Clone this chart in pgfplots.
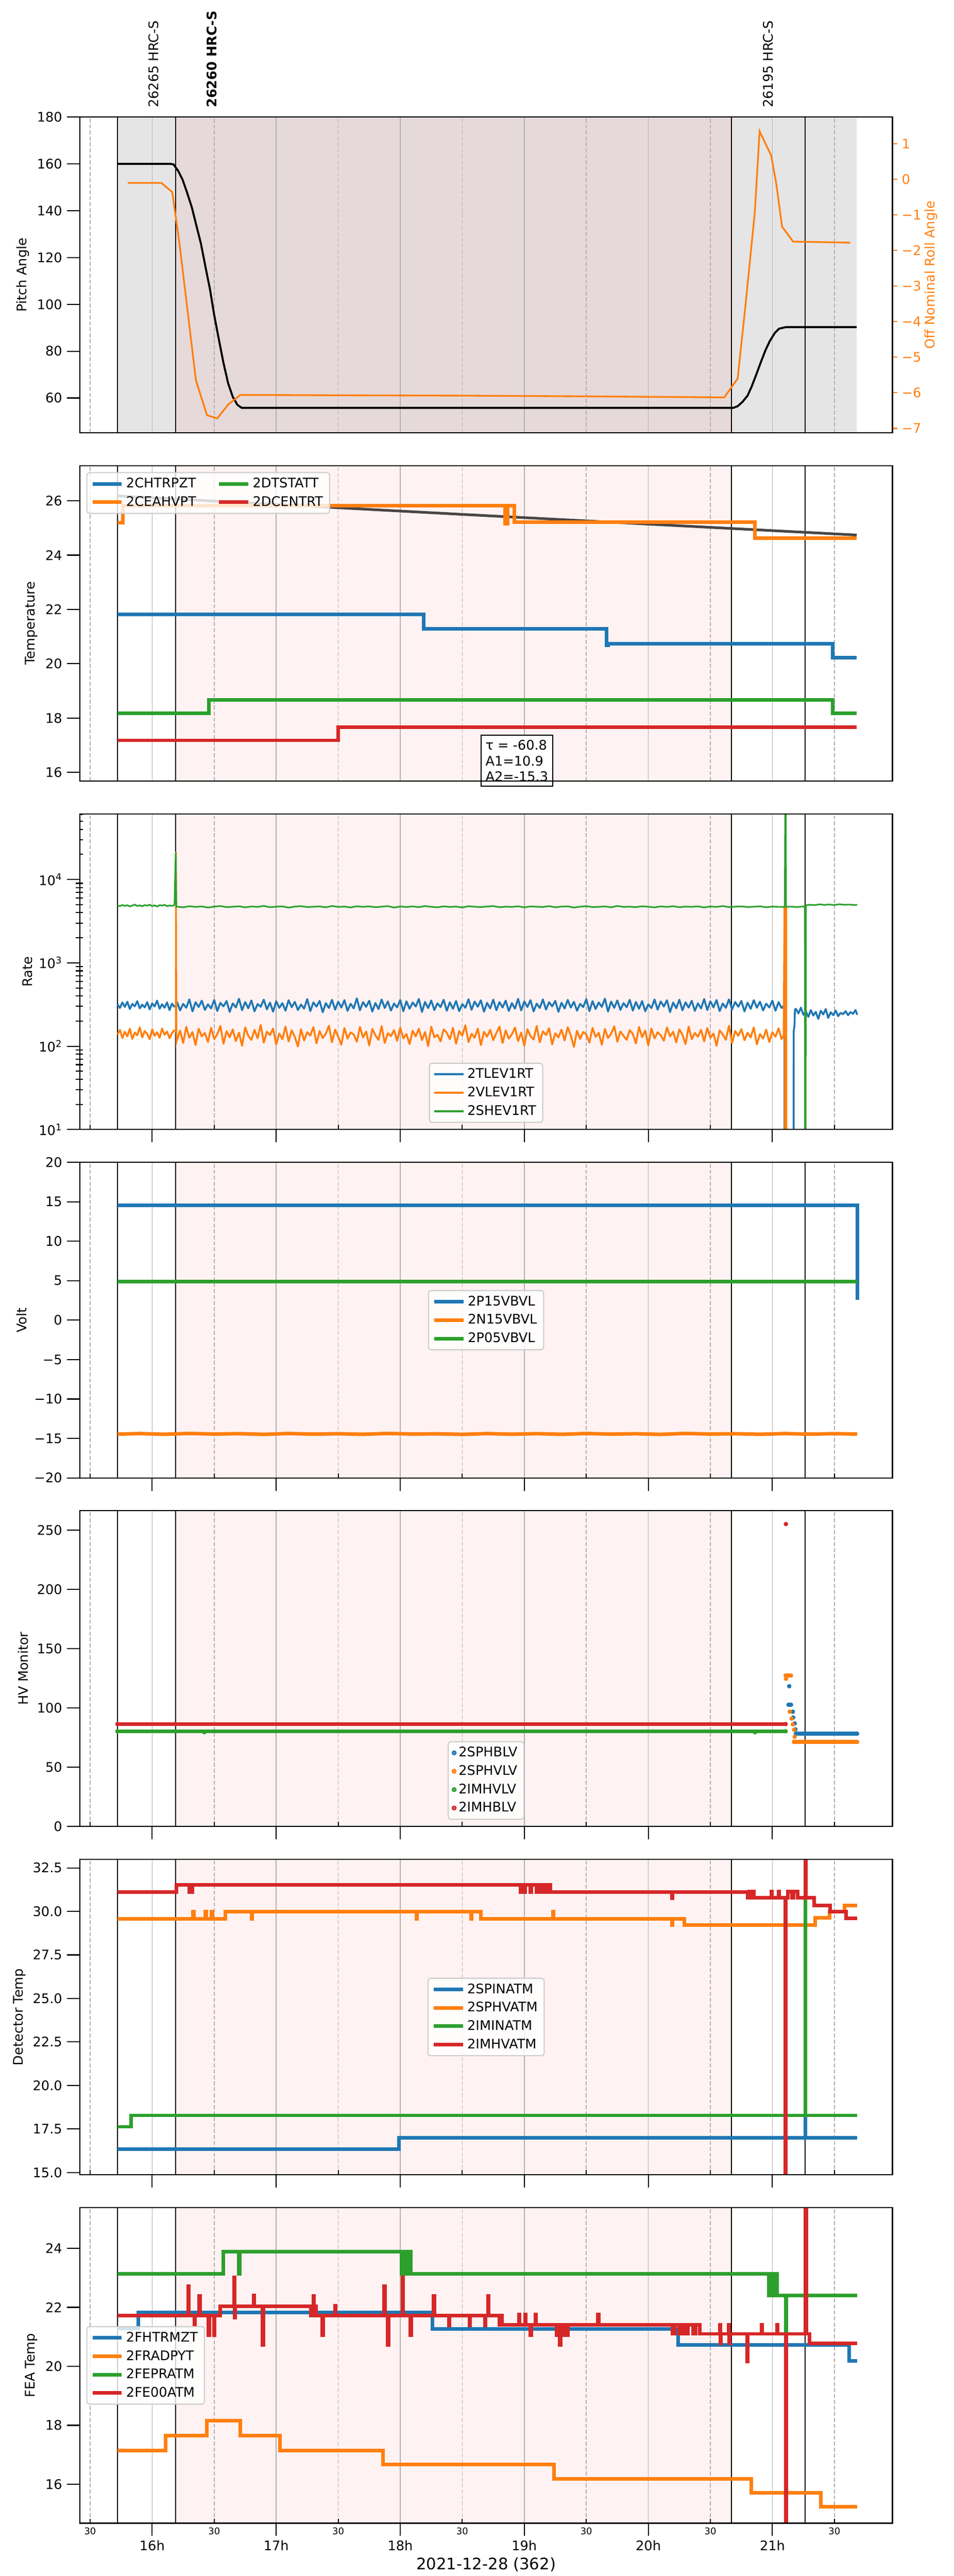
\documentclass[border=0pt]{standalone}
\usepackage{fontspec}
\setmainfont{DejaVu Sans}
\usepackage{pgfplots}
\usepackage{pgfplotstable}
\pgfplotsset{compat=1.18}

\definecolor{C0}{HTML}{1F77B4}
\definecolor{C1}{HTML}{FF7F0E}
\definecolor{C2}{HTML}{2CA02C}
\definecolor{C3}{HTML}{D62728}
\definecolor{pinkbg}{HTML}{FFF2F2}
\definecolor{graybg}{HTML}{E5E5E5}
\definecolor{topbg}{HTML}{E6D9D9}
\definecolor{gridgray}{HTML}{B0B0B0}
\definecolor{legedge}{HTML}{CCCCCC}
\definecolor{fitgray}{HTML}{4A4545}

\newcommand{\ften}{\fontsize{10}{12}\selectfont}
\newcommand{\fseven}{\fontsize{7}{8.4}\selectfont}
\newcommand{\ftwelve}{\fontsize{12}{14.4}\selectfont}

\tikzset{
  halfline/.style={gridgray, line width=0.6bp, dash pattern=on 3bp off 1.5bp},
  hourline/.style={gridgray, line width=0.6bp},
  evline/.style={black, line width=0.7bp},
}

\newcommand{\pvl}[3]{\draw[#3] ({axis cs:#1,#2}|-{rel axis cs:0,0}) -- ({axis cs:#1,#2}|-{rel axis cs:0,1});}
\newcommand{\pband}[4]{\fill[#4] ({axis cs:#1,#3}|-{rel axis cs:0,0}) rectangle ({axis cs:#2,#3}|-{rel axis cs:0,1});}
\newcommand{\pgrid}[1]{%
  \pvl{15.5}{#1}{halfline}\pvl{16.5}{#1}{halfline}\pvl{17.5}{#1}{halfline}\pvl{18.5}{#1}{halfline}%
  \pvl{19.5}{#1}{halfline}\pvl{20.5}{#1}{halfline}\pvl{21.5}{#1}{halfline}%
  \pvl{16}{#1}{hourline}\pvl{17}{#1}{hourline}\pvl{18}{#1}{hourline}\pvl{19}{#1}{hourline}\pvl{20}{#1}{hourline}\pvl{21}{#1}{hourline}%
  \pvl{15.72}{#1}{evline}\pvl{16.19}{#1}{evline}\pvl{20.67}{#1}{evline}\pvl{21.265}{#1}{evline}}
\newcommand{\pstd}[1]{\pband{16.19}{20.67}{#1}{pinkbg}\pgrid{#1}}

\pgfplotsset{
  legend image code/.code={\draw[#1] (0bp,0bp) -- (22bp,0bp);},
  panel/.style={
    scale only axis, width=613.44bp, height=238.14bp,
    xmin=15.416, xmax=21.968,
    anchor=north west,
    axis on top,
    clip mode=individual,
    axis line style={line width=0.8bp},
    tick align=outside,
    major tick length=9.7bp,
    every tick/.style={line width=0.8bp, black},
    tick pos=left,
    tick label style={font=\ften},
    /pgf/number format/assume math mode=true,
    legend cell align=left,
    legend style={draw=legedge, line width=0.8bp, rounded corners=2bp, fill=white, fill opacity=0.8, text opacity=1, font=\ften, row sep=1bp},
  },
  ylab/.style={every axis y label/.style={at={([xshift=#1]axis description cs:0,0.5)}, rotate=90, anchor=center, font=\ften}},
  noxt/.style={xtick=\empty},
  hxt/.style={xtick={16,17,18,19,20,21}, xticklabels={},
    extra x ticks={15.5,16.5,17.5,18.5,19.5,20.5,21.5}, extra x tick labels={},
    extra x tick style={tick align=inside, major tick length=3.5bp}},
}

\pgfplotstableread{
x tlev vlev shev
15.72 318 138 4880
15.74 287 157 4790
15.76 334 125 4950
15.78 296 149 4820
15.80 341 131 4910
15.82 279 162 4760
15.84 322 122 4870
15.86 301 146 4990
15.88 347 135 4810
15.90 284 168 4900
15.92 315 127 4770
15.94 292 152 4930
15.96 338 140 4850
15.98 276 121 4980
16.00 327 159 4800
16.02 299 133 4890
16.04 352 147 4740
16.06 281 126 4920
16.08 318 163 4860
16.10 289 137 4960
16.12 336 150 4790
16.14 270 124 4870
16.16 324 144 4830
16.18 295 156 4900
}\rateA

\pgfplotstableread{
x tlev vlev
16.2 341 118
16.225 268 154
16.25 322 109
16.275 289 171
16.3 365 126
16.325 261 148
16.35 337 103
16.375 295 162
16.4 352 131
16.425 272 144
16.45 318 112
16.475 283 166
16.5 359 122
16.525 264 139
16.55 331 175
16.575 300 107
16.6 348 151
16.625 258 128
16.65 326 159
16.675 291 115
16.7 371 145
16.725 270 101
16.75 339 168
16.775 285 133
16.8 354 119
16.825 262 157
16.85 320 124
16.875 297 180
16.9 362 110
16.925 276 149
16.95 333 136
16.975 259 163
17 347 105
17.025 288 142
17.05 328 121
17.075 266 172
17.1 356 114
17.125 293 155
17.15 340 129
17.175 271 99
17.2 316 160
17.225 282 117
17.25 368 147
17.275 263 134
17.3 335 169
17.325 298 108
17.35 350 152
17.375 255 125
17.4 329 141
17.425 287 176
17.45 360 111
17.475 274 158
17.5 342 130
17.525 290 104
17.55 357 165
17.575 265 123
17.6 323 146
17.625 284 138
17.65 375 113
17.675 269 170
17.7 338 127
17.725 296 150
17.75 351 102
17.775 260 161
17.8 330 135
17.825 279 119
17.85 363 174
17.875 287 109
17.9 344 143
17.925 267 132
17.95 325 156
17.975 292 116
18 358 167
18.025 262 124
18.05 346 140
18.075 281 106
18.1 334 153
18.125 299 131
18.15 369 162
18.175 257 118
18.2 340 148
18.225 286 100
18.25 353 171
18.275 271 128
18.3 327 137
18.325 294 114
18.35 361 159
18.375 266 145
18.4 336 121
18.425 280 166
18.45 349 107
18.475 263 152
18.5 320 134
18.525 289 178
18.55 366 112
18.575 273 141
18.6 343 126
18.625 297 163
18.65 355 103
18.675 259 149
18.7 331 130
18.725 284 157
18.75 362 118
18.775 270 144
18.8 338 172
18.825 291 109
18.85 352 155
18.875 264 123
18.9 328 139
18.925 282 167
18.95 370 115
18.975 268 146
19 345 101
19.025 295 160
19.05 357 132
19.075 261 120
19.1 324 175
19.125 287 111
19.15 364 151
19.175 275 136
19.2 337 164
19.225 300 105
19.25 350 143
19.275 258 127
19.3 332 158
19.325 283 117
19.35 359 169
19.375 290 134
19.4 341 98
19.425 266 153
19.45 322 122
19.475 294 148
19.5 367 138
19.525 263 110
19.55 347 166
19.575 279 129
19.6 335 145
19.625 296 104
19.65 372 161
19.675 260 125
19.7 343 141
19.725 288 173
19.75 354 113
19.775 272 150
19.8 329 133
19.825 293 119
19.85 360 156
19.875 267 140
19.9 339 108
19.925 281 170
19.95 348 128
19.975 262 154
20 318 102
20.025 286 163
20.05 363 124
20.075 274 147
20.1 344 135
20.125 299 116
20.15 356 168
20.175 256 131
20.2 334 149
20.225 285 111
20.25 361 159
20.275 269 137
20.3 336 106
20.325 290 172
20.35 351 121
20.375 265 144
20.4 327 130
20.425 283 157
20.45 368 114
20.475 271 165
20.5 346 126
20.525 292 142
20.55 358 101
20.575 263 155
20.6 325 138
20.625 288 119
20.65 365 176
20.675 276 109
20.7 339 152
20.725 297 133
20.75 349 160
20.775 261 118
20.8 333 145
20.825 280 127
20.85 357 168
20.875 289 105
20.9 342 140
20.925 268 123
20.95 324 158
20.975 291 112
21 352 147
21.025 266 130
21.05 338 164
21.075 284 120
}\rateB

\pgfplotstableread{
x shev
16.2 4720
16.25 4640
16.3 4780
16.35 4690
16.4 4750
16.45 4610
16.5 4730
16.55 4800
16.6 4660
16.65 4710
16.7 4770
16.75 4630
16.8 4740
16.85 4690
16.9 4820
16.95 4650
17 4720
17.05 4760
17.1 4600
17.15 4730
17.2 4790
17.25 4670
17.3 4710
17.35 4750
17.4 4640
17.45 4810
17.5 4690
17.55 4730
17.6 4620
17.65 4770
17.7 4700
17.75 4760
17.8 4650
17.85 4720
17.9 4790
17.95 4610
18 4740
18.05 4680
18.1 4750
18.15 4660
18.2 4800
18.25 4700
18.3 4640
18.35 4760
18.4 4690
18.45 4730
18.5 4620
18.55 4780
18.6 4710
18.65 4670
18.7 4740
18.75 4800
18.8 4650
18.85 4720
18.9 4690
18.95 4770
19 4630
19.05 4750
19.1 4710
19.15 4680
19.2 4790
19.25 4640
19.3 4730
19.35 4760
19.4 4610
19.45 4720
19.5 4780
19.55 4670
19.6 4700
19.65 4750
19.7 4640
19.75 4810
19.8 4690
19.85 4720
19.9 4660
19.95 4770
20 4710
20.05 4630
20.1 4750
20.15 4690
20.2 4780
20.25 4650
20.3 4730
20.35 4700
20.4 4760
20.45 4620
20.5 4740
20.55 4690
20.6 4800
20.65 4660
20.7 4720
20.75 4750
20.8 4680
20.85 4710
20.9 4770
20.95 4640
21 4730
21.05 4700
21.1 4690
}\shevB

\begin{document}
\begin{tikzpicture}
\path[use as bounding box] (0,0) rectangle (720bp,1944bp);

% ---------------- Panel 1: pitch / roll
\begin{axis}[panel, noxt, at={(60.16bp,1855.62bp)},
  ymin=45.2, ymax=180, ytick={60,80,100,120,140,160,180},
  ylabel={Pitch Angle}, ylab=-42.8bp]
  \pband{15.72}{21.68}{100}{graybg}
  \pband{16.19}{20.67}{100}{topbg}
  \pgrid{100}
  \addplot[black, line width=1.5bp] coordinates {
    (15.72,160) (16.15,160) (16.172,159.8) (16.21,157) (16.245,153.3) (16.28,148)
    (16.319,141.6) (16.355,134) (16.393,126.0) (16.43,116) (16.466,106.5) (16.50,95.5)
    (16.540,84.4) (16.575,75) (16.613,66.2) (16.65,60.5) (16.687,57.1) (16.721,55.8)
    (20.686,55.8) (20.72,56.5) (20.76,58.4) (20.80,61) (20.833,64.9) (20.87,70)
    (20.907,75.3) (20.945,80.5) (20.98,84.4) (21.02,87.8) (21.054,89.6) (21.11,90.3) (21.68,90.3)};
  \node[rotate=90, anchor=west, inner sep=0pt, font=\ften] at ({axis cs:16.012,100}|-{rel axis cs:0,1.0295}) {26265 HRC-S};
  \node[rotate=90, anchor=west, inner sep=0pt, font=\ften\bfseries] at ({axis cs:16.481,100}|-{rel axis cs:0,1.0295}) {26260 HRC-S};
  \node[rotate=90, anchor=west, inner sep=0pt, font=\ften] at ({axis cs:20.966,100}|-{rel axis cs:0,1.0295}) {26195 HRC-S};
\end{axis}
\begin{axis}[panel, noxt, at={(60.16bp,1855.62bp)},
  ymin=-7.12, ymax=1.75, ytick={-7,-6,-5,-4,-3,-2,-1,0,1},
  yticklabels={−7,−6,−5,−4,−3,−2,−1,0,1},
  ytick pos=right, yticklabel pos=right,
  major tick length=3.5bp,
  every tick/.style={line width=0.8bp, C1},
  y tick label style={text=C1},
  ylabel={Off Nominal Roll Angle},
  every axis y label/.style={at={([xshift=29bp]axis description cs:1,0.5)}, rotate=90, anchor=center, font=\ften, text=C1}]
  \addplot[C1, line width=1.3bp] coordinates {
    (15.804,-0.10) (16.074,-0.10) (16.162,-0.36) (16.22,-1.80) (16.294,-3.94) (16.353,-5.65)
    (16.442,-6.63) (16.525,-6.72) (16.613,-6.33) (16.711,-6.06) (17.5,-6.07) (18.5,-6.08)
    (19.5,-6.10) (20.3,-6.12) (20.612,-6.13) (20.72,-5.60) (20.784,-3.51) (20.858,-0.94)
    (20.897,1.35) (20.99,0.67) (21.03,-0.09) (21.078,-1.33) (21.167,-1.75) (21.628,-1.78)};
\end{axis}

% ---------------- Panel 2: temperature
\begin{axis}[panel, noxt, at={(60.16bp,1592.68bp)},
  ymin=15.68, ymax=27.30, ytick={16,18,20,22,24,26},
  ylabel={Temperature}, ylab=-36.4bp,
  legend columns=2,
  legend style={at={(axis description cs:0,1)}, anchor=north west, xshift=5bp, yshift=-5bp,
    /tikz/every even column/.append style={column sep=14bp}}]
  \pstd{20}
  \addplot[fitgray, line width=2bp, forget plot] coordinates {(15.72,26.18) (18.5,25.50) (21.68,24.74)};
  \addplot[C0, line width=2.7bp, const plot] coordinates {
    (15.72,21.82) (18.19,21.28) (19.665,20.68) (19.675,20.74) (21.486,20.22) (21.68,20.22)};
  \addlegendentry{2CHTRPZT}
  \addplot[C2, line width=2.7bp, const plot] coordinates {
    (15.72,18.17) (16.456,18.67) (21.486,18.17) (21.68,18.17)};
  \addlegendentry{2DTSTATT}
  \addplot[C1, line width=2.7bp, const plot] coordinates {
    (15.72,25.2) (15.765,25.82) (18.846,25.16) (18.865,25.82) (18.92,25.22) (20.858,24.63) (21.68,24.63)};
  \addlegendentry{2CEAHVPT}
  \addplot[C3, line width=2.7bp, const plot] coordinates {
    (15.72,17.18) (17.50,17.66) (21.68,17.66)};
  \addlegendentry{2DCENTRT}
  \node[draw, fill=white, line width=0.8bp, align=left, anchor=north, inner sep=3.5bp, font=\ften]
    at ({axis cs:18.94,20}|-{rel axis cs:0,0.1463}) {τ = -60.8\\A1=10.9\\A2=-15.3};
\end{axis}

% ---------------- Panel 3: rates
\begin{axis}[panel, hxt, at={(60.16bp,1329.74bp)},
  ymode=log, ymin=10, ymax=61200, ytick={10,100,1000,10000},
  yticklabels={10\textsuperscript{1},10\textsuperscript{2},10\textsuperscript{3},10\textsuperscript{4}},
  extra y ticks={20,30,40,50,60,70,80,90,200,300,400,500,600,700,800,900,2000,3000,4000,5000,6000,7000,8000,9000,20000,30000,40000,50000,60000},
  extra y tick labels={},
  extra y tick style={tick align=inside, major tick length=2.5bp},
  ylabel={Rate}, ylab=-39.6bp,
  legend style={at={(axis description cs:0.5,0)}, anchor=south, yshift=5bp},
  legend image post style={line width=1.6bp}]
  \pstd{100}
  % 2TLEV1RT
  \addplot[C0, line width=1.4bp, line join=round, forget plot] table[x=x, y=tlev] {\rateA};
  \addplot[C0, line width=1.4bp, forget plot] coordinates {(16.18,295) (16.19,305) (16.2,341)};
  \addplot[C0, line width=1.4bp, line join=round] table[x=x, y=tlev] {\rateB};
  \addlegendentry{2TLEV1RT}
  \addplot[C0, line width=1.4bp, line join=round, forget plot] coordinates {
    (21.075,284) (21.09,305) (21.095,290) (21.097,172) (21.099,1) (21.171,1) (21.172,152) (21.178,175) (21.182,275)
    (21.19,281) (21.21,247) (21.23,290) (21.25,238) (21.27,262) (21.29,224) (21.31,271) (21.33,233) (21.35,258)
    (21.37,212) (21.39,266) (21.41,240) (21.43,279) (21.45,218) (21.47,255) (21.49,236) (21.51,268) (21.53,229)
    (21.55,251) (21.57,242) (21.59,263) (21.61,235) (21.63,257) (21.65,244) (21.67,272) (21.684,238)};
  % 2VLEV1RT
  \addplot[C1, line width=1.4bp, line join=round, forget plot] table[x=x, y=vlev] {\rateA};
  \addplot[C1, line width=1.2bp, forget plot] coordinates {(16.18,156) (16.19,150) (16.192,21500) (16.196,112) (16.2,118)};
  \addplot[C1, line width=1.4bp, line join=round] table[x=x, y=vlev] {\rateB};
  \addlegendentry{2VLEV1RT}
  \addplot[C1, line width=1.2bp, forget plot] coordinates {
    (21.075,120) (21.09,135) (21.097,4800) (21.1,1) (21.104,4700) (21.108,1) (21.112,4800) (21.115,1)};
  % 2SHEV1RT
  \addplot[C2, line width=1.2bp, forget plot] table[x=x, y=shev] {\rateA};
  \addplot[C2, line width=1.2bp, forget plot] coordinates {(16.18,4900) (16.19,21000) (16.195,4700) (16.2,4720)};
  \addplot[C2, line width=1.2bp] table[x=x, y=shev] {\shevB};
  \addlegendentry{2SHEV1RT}
  \addplot[C2, line width=1.2bp, forget plot] coordinates {
    (21.1,4690) (21.106,1000000) (21.11,4700) (21.15,4720) (21.2,4680) (21.25,4740) (21.262,4700) (21.263,1)
    (21.266,4800) (21.268,1) (21.27,4900) (21.3,4980) (21.34,4920) (21.38,5030) (21.42,4960) (21.46,5010)
    (21.5,4940) (21.54,5050) (21.58,4970) (21.62,5000) (21.66,4930) (21.684,4980)};
\end{axis}

% ---------------- Panel 4: volt
\begin{axis}[panel, hxt, at={(60.16bp,1066.80bp)},
  ymin=-20, ymax=20, ytick={-20,-15,-10,-5,0,5,10,15,20},
  yticklabels={−20,−15,−10,−5,0,5,10,15,20},
  ylabel={Volt}, ylab=-43.9bp,
  legend style={at={(axis description cs:0.5,0.5)}, anchor=center}]
  \pstd{0}
  \addplot[C0, line width=2.7bp] coordinates {(15.72,14.55) (21.684,14.55) (21.684,2.6)};
  \addlegendentry{2P15VBVL}
  \addplot[C1, line width=2.7bp] coordinates {
    (15.72,-14.45) (15.9,-14.38) (16.1,-14.47) (16.3,-14.36) (16.5,-14.44) (16.7,-14.39) (16.9,-14.48)
    (17.1,-14.37) (17.3,-14.45) (17.5,-14.40) (17.7,-14.47) (17.9,-14.36) (18.1,-14.44) (18.3,-14.41)
    (18.5,-14.48) (18.7,-14.38) (18.9,-14.46) (19.1,-14.39) (19.3,-14.47) (19.5,-14.37) (19.7,-14.45)
    (19.9,-14.40) (20.1,-14.48) (20.3,-14.36) (20.5,-14.44) (20.7,-14.40) (20.9,-14.47) (21.1,-14.38)
    (21.3,-14.45) (21.5,-14.39) (21.684,-14.44)};
  \addlegendentry{2N15VBVL}
  \addplot[C2, line width=2.7bp] coordinates {(15.72,4.87) (21.684,4.87)};
  \addlegendentry{2P05VBVL}
\end{axis}

% ---------------- Panel 5: HV monitor
\begin{axis}[panel, hxt, at={(60.16bp,803.86bp)},
  ymin=0, ymax=266.2, ytick={0,50,100,150,200,250},
  ylabel={HV Monitor}, ylab=-42.8bp,
  legend image code/.code={\draw[#1] plot coordinates {(11bp,0bp)};},
  legend style={at={(axis description cs:0.5,0)}, anchor=south, yshift=5bp}]
  \pstd{50}
  \addplot[C0, line width=2.9bp, line cap=round, forget plot] coordinates {(21.19,78.2) (21.683,78.2)};
  \addplot[C0, only marks, mark=*, mark size=1.45bp, mark options={draw=C0, fill=C0}] coordinates {
    (21.136,118.2) (21.13,102.6) (21.14,102.6) (21.15,102.6) (21.165,96.7) (21.168,91.8) (21.18,86.8) (21.186,81.8) (21.19,78.2) (21.683,78.2)};
  \addlegendentry{2SPHBLV}
  \addplot[C1, line width=2.9bp, line cap=round, forget plot] coordinates {(21.174,71.2) (21.683,71.2)};
  \addplot[C1, only marks, mark=*, mark size=1.45bp, mark options={draw=C1, fill=C1}] coordinates {
    (21.107,127.2) (21.115,127.2) (21.125,127.2) (21.135,127.2) (21.15,127.2) (21.11,124.5) (21.14,96.7)
    (21.155,90.9) (21.165,86) (21.175,81.5) (21.18,75.6) (21.174,71.2) (21.683,71.2)};
  \addlegendentry{2SPHVLV}
  \addplot[C2, line width=2.9bp, line cap=round, forget plot] coordinates {(15.72,80.2) (21.107,80.2)};
  \addplot[C2, only marks, mark=*, mark size=1.45bp, mark options={draw=C2, fill=C2}] coordinates {
    (15.72,80.2) (16.42,79.4) (20.86,79.4) (21.107,80.2)};
  \addlegendentry{2IMHVLV}
  \addplot[C3, line width=2.9bp, line cap=round, forget plot] coordinates {(15.72,86.3) (21.107,86.3)};
  \addplot[C3, only marks, mark=*, mark size=1.45bp, mark options={draw=C3, fill=C3}] coordinates {
    (15.72,86.3) (21.107,86.3) (21.109,255)};
  \addlegendentry{2IMHBLV}
\end{axis}

% ---------------- Panel 6: detector temp
\begin{axis}[panel, hxt, at={(60.16bp,540.92bp)},
  ymin=14.87, ymax=33.0, ytick={15,17.5,20,22.5,25,27.5,30,32.5},
  yticklabels={15.0,17.5,20.0,22.5,25.0,27.5,30.0,32.5},
  ylabel={Detector Temp}, ylab=-45.4bp,
  legend style={at={(axis description cs:0.5,0.5)}, anchor=center}]
  \pstd{20}
  \addplot[C0, line width=2.7bp, const plot] coordinates {
    (15.72,16.35) (17.99,16.99) (21.264,40) (21.267,16.99) (21.684,16.99)};
  \addlegendentry{2SPINATM}
  \addplot[C1, line width=2.7bp, const plot] coordinates {
    (15.72,29.58) (16.33,29.98) (16.336,29.58) (16.43,29.98) (16.436,29.58) (16.48,29.98) (16.486,29.58)
    (16.59,29.98) (16.80,29.58) (16.806,29.98) (18.13,29.58) (18.136,29.98) (18.57,29.58) (18.576,29.98)
    (18.65,29.58) (19.23,29.98) (19.236,29.58) (20.19,29.22) (20.196,29.58) (20.29,29.22) (21.345,29.63)
    (21.46,29.98) (21.58,30.34) (21.684,30.34)};
  \addlegendentry{2SPHVATM}
  \addplot[C2, line width=2.7bp, const plot] coordinates {
    (15.72,17.63) (15.83,18.28) (21.264,40) (21.267,18.28) (21.684,18.28)};
  \addlegendentry{2IMINATM}
  \addplot[C3, line width=2.7bp, const plot] coordinates {
    (15.72,31.12) (16.196,31.53) (16.30,31.12) (16.306,31.53) (16.32,31.12) (16.326,31.53)
    (18.97,31.12) (18.976,31.53) (19.0,31.12) (19.006,31.53) (19.05,31.12) (19.056,31.53)
    (19.1,31.12) (19.106,31.53) (19.13,31.12) (19.136,31.53) (19.16,31.12) (19.18,31.53) (19.21,31.12)
    (20.19,30.75) (20.196,31.12) (20.80,30.78) (20.815,31.13) (20.825,30.78) (20.84,31.13) (20.85,30.78)
    (20.99,31.13) (20.996,30.78) (21.049,31.13) (21.055,30.78) (21.106,-10) (21.109,30.78) (21.125,31.13)
    (21.16,30.78) (21.17,31.13) (21.205,30.78) (21.267,40) (21.27,30.78) (21.338,30.34) (21.466,30.0)
    (21.594,29.59) (21.684,29.59)};
  \addlegendentry{2IMHVATM}
\end{axis}

% ---------------- Panel 7: FEA temp
\begin{axis}[panel, hxt, at={(60.16bp,277.98bp)},
  ymin=14.68, ymax=25.38, ytick={16,18,20,22,24},
  xticklabels={16h,17h,18h,19h,20h,21h},
  extra x tick labels={30,30,30,30,30,30,30},
  extra x tick style={tick label style={font=\fseven}},
  xlabel={2021-12-28 (362)},
  every axis x label/.style={at={([yshift=-31.3bp]axis description cs:0.5,0)}, anchor=center, font=\ftwelve},
  ylabel={FEA Temp}, ylab=-36.4bp,
  legend style={at={(axis description cs:0,0.5)}, anchor=west, xshift=5bp}]
  \pstd{20}
  \addplot[C0, line width=2.7bp, const plot] coordinates {
    (15.72,21.29) (15.89,21.82) (18.26,21.27) (20.24,20.73) (21.62,20.18) (21.684,20.18)};
  \addlegendentry{2FHTRMZT}
  \addplot[C1, line width=2.7bp, const plot] coordinates {
    (15.72,17.15) (16.11,17.65) (16.44,18.16) (16.71,17.65) (17.03,17.15) (17.86,16.68) (19.24,16.19)
    (20.83,15.71) (21.39,15.24) (21.684,15.24)};
  \addlegendentry{2FRADPYT}
  \addplot[C2, line width=2.7bp, const plot] coordinates {
    (15.72,23.14) (16.574,23.88) (16.70,23.14) (16.706,23.88) (18.01,23.14) (18.03,23.88) (18.06,23.14)
    (18.07,23.88) (18.085,23.14) (20.972,22.40) (20.99,23.14) (21.01,22.40) (21.02,23.14) (21.036,22.40)
    (21.108,21.16) (21.112,22.40) (21.684,22.40)};
  \addlegendentry{2FEPRATM}
  \addplot[C3, line width=2.7bp, const plot] coordinates {
    (15.72,21.72) (16.29,22.71) (16.297,21.72) (16.34,21.39) (16.347,21.72) (16.38,22.38) (16.387,21.72)
    (16.453,21.06) (16.46,21.72) (16.497,21.06) (16.504,21.72) (16.55,22.03) (16.66,23.01) (16.664,21.65)
    (16.668,22.03) (16.817,22.40) (16.823,22.03) (16.89,20.73) (16.897,22.03) (17.28,21.72) (17.29,22.03)
    (17.30,22.38) (17.305,21.72) (17.31,22.03) (17.32,21.72) (17.371,21.06) (17.378,21.72) (17.474,22.05)
    (17.48,21.72) (17.871,22.71) (17.877,21.72) (17.90,20.73) (17.907,21.72) (18.017,23.01) (18.023,21.72)
    (18.082,21.06) (18.088,21.72) (18.269,22.38) (18.275,21.72) (18.391,21.39) (18.397,21.72) (18.558,21.39)
    (18.564,21.72) (18.681,21.39) (18.687,21.72) (18.706,22.38) (18.712,21.72) (18.80,21.41) (18.81,21.72)
    (18.82,21.41) (18.956,21.76) (18.962,21.41) (19.005,21.76) (19.011,21.41) (19.049,21.06) (19.055,21.41)
    (19.088,21.76) (19.094,21.41) (19.26,21.06) (19.27,21.41) (19.285,20.73) (19.292,21.06) (19.31,21.41)
    (19.33,21.06) (19.35,21.41) (19.594,21.76) (19.60,21.41) (20.195,21.10) (20.21,21.41) (20.25,21.10)
    (20.27,21.41) (20.30,21.10) (20.32,21.41) (20.36,21.10) (20.38,21.41) (20.416,21.10) (20.578,21.41)
    (20.581,20.77) (20.585,21.10) (20.649,21.41) (20.652,20.77) (20.656,21.10) (20.797,20.16) (20.803,21.10)
    (20.911,21.41) (20.917,21.10) (21.037,21.41) (21.043,21.10) (21.107,5) (21.113,21.10) (21.267,40)
    (21.273,21.10) (21.30,20.77) (21.684,20.77)};
  \addlegendentry{2FE00ATM}
\end{axis}
\end{tikzpicture}
\end{document}
